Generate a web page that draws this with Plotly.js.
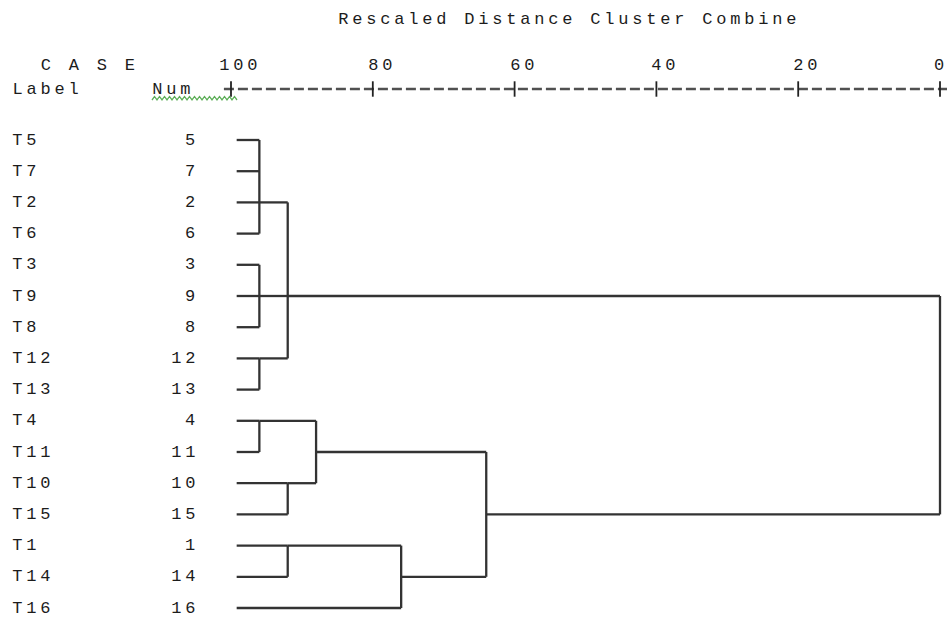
<!DOCTYPE html>
<html>
<head>
<meta charset="utf-8">
<script src="https://cdn.plot.ly/plotly-3.0.1.min.js"></script>
<style>
  html, body { margin: 0; padding: 0; background: #ffffff; }
  #chart { width: 947px; height: 621px; }
  /* wide monospaced look of the text listing */
  #chart .annotation-text { letter-spacing: 3.8px; }
</style>
</head>
<body>
<div id="chart"></div>
<script>
// Cases in dendrogram order
const caseLabels = ['T5','T7','T2','T6','T3','T9','T8','T12','T13','T4','T11','T10','T15','T1','T14','T16'];
const caseNums   = [5, 7, 2, 6, 3, 9, 8, 12, 13, 4, 11, 10, 15, 1, 14, 16];

// Rescaled distance scale (left to right)
const scaleTicks = [100, 80, 60, 40, 20, 0];

// Agglomeration steps: members, joining level, row the new cluster leaves from
const mergeNames   = ['A','B','C','D','E','F','G','H','I','J','K'];
const mergeMembers = [
  ['T5','T7','T2','T6'],
  ['T3','T9','T8'],
  ['T12','T13'],
  ['A','B','C'],
  ['T4','T11'],
  ['T10','T15'],
  ['E','F'],
  ['T1','T14'],
  ['H','T16'],
  ['G','I'],
  ['D','J']
];
const mergeLevels = [96, 96, 96, 92, 96, 92, 88, 92, 76, 64, 0];
const mergeRows   = ['T2','T9','T12','T9','T4','T10','T11','T1','T14','T15','T9'];
const leafLevel = 99.2;

const titleText = 'Rescaled Distance Cluster Combine';
const caseHeader = 'C A S E';
const labelHeader = 'Label';
const numHeader = 'Num';

// ---- geometry of the page ----
const W = 947, H = 621;
const pxPerUnit = 7.09;          // horizontal pixels per distance unit
const x100px = 231;              // pixel column of the 100 mark
const xRange = [100 + x100px / pxPerUnit, 100 + x100px / pxPerUnit - W / pxPerUnit];
const rowPx = 31.2, firstRowPx = 140;
const yTop = 1 - firstRowPx / rowPx;
const yRange = [yTop + H / rowPx, yTop];  // reversed: row 1 at top
const pxToRow = p => 1 + (p - firstRowPx) / rowPx;
const ruleRow = pxToRow(89);
const caseRow = pxToRow(65);
const titleRow = pxToRow(19);

// character cell of the listing font
const fontSize = 17, letterGap = 3.8;
const cell = fontSize * 0.6 + letterGap;

// ---- build dendrogram segments ----
const rowOf = {};
caseLabels.forEach((c, i) => { rowOf[c] = i + 1; });
const levelOf = {};
caseLabels.forEach(c => { levelOf[c] = leafLevel; });

const segX = [], segY = [];
function seg(x0, y0, x1, y1) { segX.push(x0, x1, null); segY.push(y0, y1, null); }

mergeNames.forEach((name, k) => {
  const lvl = mergeLevels[k];
  const rows = mergeMembers[k].map(m => rowOf[m]);
  mergeMembers[k].forEach(m => seg(levelOf[m], rowOf[m], lvl, rowOf[m]));
  seg(lvl, Math.min(...rows), lvl, Math.max(...rows));
  rowOf[name] = rowOf[mergeRows[k]];
  levelOf[name] = lvl;
});

const font = { family: '"Courier New", "Liberation Mono", monospace', size: fontSize, color: '#1c1c1c' };

const traces = [
  {
    type: 'scatter', mode: 'lines', x: segX, y: segY,
    line: { color: '#333333', width: 2.3 }, hoverinfo: 'skip', cliponaxis: false
  },
  // dashed scale rule
  {
    type: 'scatter', mode: 'lines',
    x: [scaleTicks[0] + 1, scaleTicks[scaleTicks.length - 1] - 1],
    y: [ruleRow, ruleRow],
    line: { color: '#505050', width: 2.5, dash: '10px,4px' }, hoverinfo: 'skip', cliponaxis: false
  },
  // tick crosses on the rule
  {
    type: 'scatter', mode: 'markers', x: scaleTicks, y: scaleTicks.map(() => ruleRow),
    marker: { symbol: 'line-ns', size: 11, line: { color: '#222222', width: 1.8 } },
    hoverinfo: 'skip', cliponaxis: false
  }
];

// text placed by its left (or right) ink edge in pixels
const annotations = [];
function textAt(text, leftPx, y) {
  const center = leftPx + text.length * cell / 2;
  annotations.push({
    text: text, x: center / W, xref: 'paper', y: y, yref: 'y',
    xanchor: 'center', yanchor: 'middle', showarrow: false, font: font, borderpad: 0
  });
}
function textRight(text, rightPx, y) {
  textAt(text, rightPx + letterGap + 1 - text.length * cell, y);
}

textAt(titleText, 338, titleRow);
textAt(caseHeader, 40, caseRow);
textAt(labelHeader, 12, ruleRow);
textAt(numHeader, 152, ruleRow);
scaleTicks.forEach(t => {
  // scale numbers sit a little right of their tick, kept inside the page
  const tickPx = (xRange[0] - t) * pxPerUnit;
  const halfInk = (String(t).length * cell - letterGap) / 2;
  const shift = Math.min(9, W - 1 - halfInk - tickPx);
  annotations.push({
    text: String(t), x: t, xref: 'x', y: caseRow, yref: 'y', xshift: shift,
    xanchor: 'center', yanchor: 'middle', showarrow: false, font: font, borderpad: 0
  });
});
caseLabels.forEach((c, i) => {
  textAt(c, 12, i + 1);
  textRight(String(caseNums[i]), 194, i + 1);
});

// wavy proofing underline beneath the Num header
let wave = '';
for (let px = 152, k = 0; px <= 238; px += 2.5, k++) {
  const py = k % 2 === 0 ? 100 : 96.5;
  wave += (k === 0 ? 'M ' : ' L ') + (px / W).toFixed(5) + ',' + (1 - py / H).toFixed(5);
}

const layout = {
  width: W, height: H,
  margin: { l: 0, r: 0, t: 0, b: 0 },
  paper_bgcolor: '#ffffff', plot_bgcolor: '#ffffff',
  showlegend: false,
  xaxis: { range: xRange, visible: false, fixedrange: true },
  yaxis: { range: yRange, visible: false, fixedrange: true },
  annotations: annotations,
  shapes: [{
    type: 'path', xref: 'paper', yref: 'paper', path: wave,
    line: { color: '#5cae57', width: 1.3 }
  }]
};

Plotly.newPlot('chart', traces, layout, { staticPlot: true, displayModeBar: false });
</script>
</body>
</html>
